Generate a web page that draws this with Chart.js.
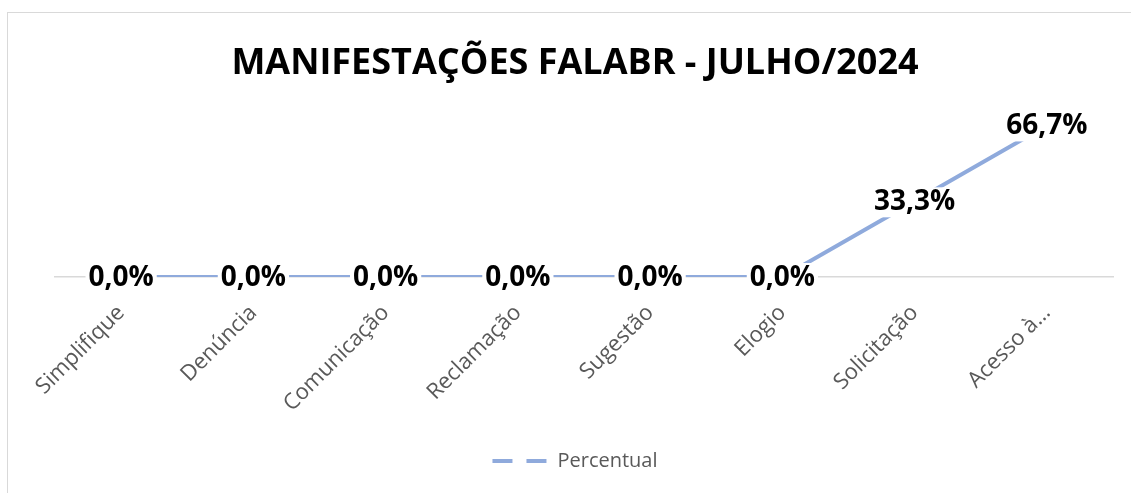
<!DOCTYPE html>
<html>
<head>
<meta charset="utf-8">
<script src="https://cdn.jsdelivr.net/npm/chart.js@4.4.1/dist/chart.umd.min.js"></script>
<style>
  html, body { margin: 0; padding: 0; background: #fff; }
  #wrap { position: relative; width: 1131px; height: 493px; overflow: hidden; }
  #frame { position: absolute; left: 7px; top: 12px; width: 1200px; height: 600px; border: 1.5px solid #d9d9d9; box-sizing: border-box; }
  #chart { position: absolute; left: 0; top: 0; }
</style>
</head>
<body>
<div id="wrap">
  <div id="frame"></div>
  <canvas id="chart" width="1131" height="493"></canvas>
</div>
<script>
const categories = [
  "Simplifique",
  "Denúncia",
  "Comunicação",
  "Reclamação",
  "Sugestão",
  "Elogio",
  "Solicitação",
  "Acesso à…",
];
const percentual = [0, 0, 0, 0, 0, 0, 33.3, 66.7];
const seriesName = "Percentual";

const lineColor = "#8faadc";
const fontFamily = "'Open Sans', 'Noto Sans', sans-serif";

// rótulos de dados com fundo branco (como no Excel)
const dataLabels = {
  id: "dataLabels",
  afterDatasetsDraw(chart) {
    const ctx = chart.ctx;
    const meta = chart.getDatasetMeta(0);
    ctx.save();
    ctx.font = "bold 28px " + fontFamily;
    ctx.textAlign = "center";
    ctx.textBaseline = "middle";
    meta.data.forEach(function (pt, i) {
      const txt = percentual[i].toFixed(1).replace(".", ",") + "%";
      const w = ctx.measureText(txt).width;
      const y = pt.y + 1;
      ctx.fillStyle = "#fff";
      ctx.fillRect(pt.x - w / 2 - 3, y - 15, w + 6, 30);
      ctx.fillStyle = "#000";
      ctx.fillText(txt, pt.x, y);
    });
    ctx.restore();
  },
};

new Chart(document.getElementById("chart"), {
  type: "line",
  data: {
    labels: categories,
    datasets: [
      {
        label: seriesName,
        data: percentual,
        borderColor: lineColor,
        backgroundColor: lineColor,
        borderWidth: 4,
        pointRadius: 0,
        tension: 0,
      },
    ],
  },
  options: {
    responsive: false,
    animation: false,
    layout: {
      padding: { left: 37, right: 18, top: 20, bottom: 12 },
    },
    scales: {
      x: {
        offset: true,
        grid: { display: false },
        border: { display: true, color: "#d9d9d9", width: 1.5 },
        ticks: {
          minRotation: 45,
          maxRotation: 45,
          padding: 15,
          color: "#595959",
          font: { family: fontFamily, size: 22 },
        },
        afterFit(scale) {
          scale.height = 164;
        },
      },
      y: {
        display: true,
        min: 0,
        max: 80,
        grid: { display: false },
        border: { display: false },
        ticks: { display: false },
        afterFit(scale) {
          scale.width = 18;
        },
      },
    },
    plugins: {
      title: {
        display: true,
        text: "MANIFESTAÇÕES FALABR - JULHO/2024",
        color: "#000",
        font: { family: fontFamily, size: 36, weight: "bold" },
        padding: { top: 22, bottom: 10 },
      },
      legend: {
        position: "bottom",
        labels: {
          usePointStyle: true,
          pointStyleWidth: 55,
          color: "#595959",
          font: { family: fontFamily, size: 20 },
          generateLabels() {
            return [
              {
                text: seriesName,
                fillStyle: lineColor,
                strokeStyle: lineColor,
                lineWidth: 4,
                lineDash: [20, 14],
                pointStyle: "line",
                fontColor: "#595959",
                datasetIndex: 0,
              },
            ];
          },
        },
      },
      tooltip: { enabled: false },
    },
  },
  plugins: [dataLabels],
});
</script>
</body>
</html>
